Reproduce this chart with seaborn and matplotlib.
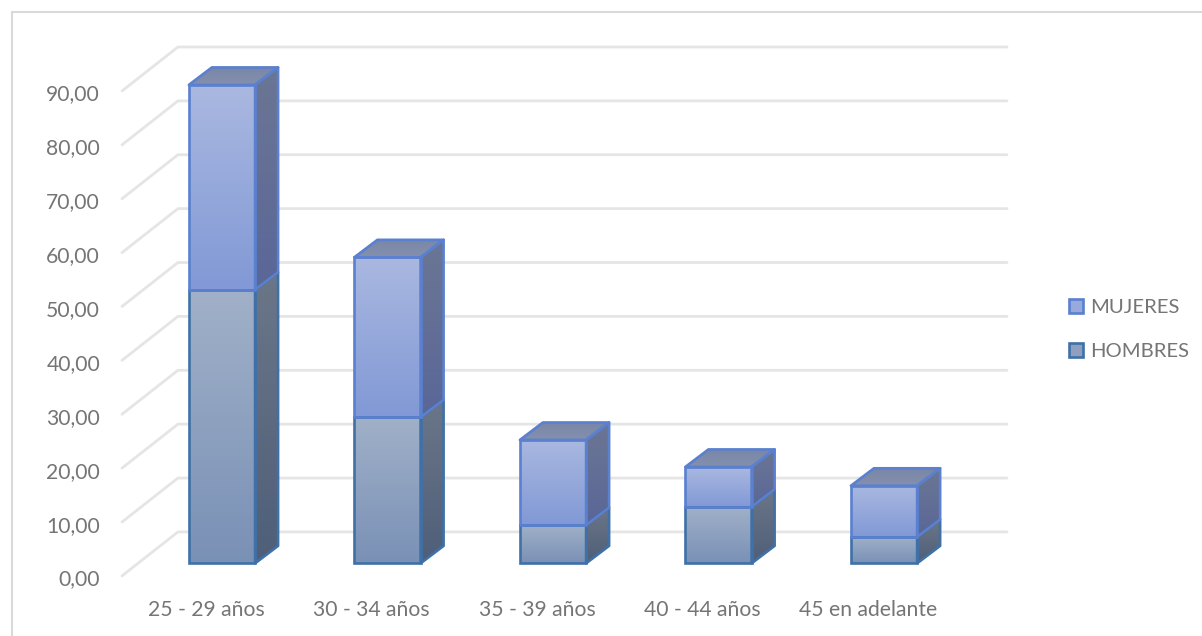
import matplotlib
matplotlib.use("Agg")
import matplotlib.pyplot as plt
import numpy as np
import seaborn as sns
from matplotlib.colors import LinearSegmentedColormap
from matplotlib.lines import Line2D
from matplotlib.patches import Patch, Polygon

# Survey totals per age bracket
age_groups = ["25 - 29 años", "30 - 34 años", "35 - 39 años", "40 - 44 años", "45 en adelante"]
hombres = [50.8, 27.1, 7.1, 10.5, 4.9]
mujeres = [38.0, 29.7, 15.8, 7.4, 9.5]
grid_values = [0, 10, 20, 30, 40, 50, 60, 70, 80, 90]
grid_labels = ["0,00", "10,00", "20,00", "30,00", "40,00", "50,00", "60,00", "70,00", "80,00", "90,00"]

W, H = 1202, 636
sns.set_theme(style="white")
plt.rcParams["font.family"] = ["Lato", "DejaVu Sans"]

TEXT = "#757575"
GRID = "#e5e5e5"
FRAME = "#d9d9d9"
EDGE_M = "#5a80cf"
EDGE_H = "#3f71a8"
FRONT_M = ("#aab8e0", "#8199d6")
FRONT_H = ("#a0b0c8", "#7a91b6")
SIDE_M = ("#6b7694", "#5a6798")
SIDE_H = ("#6b7688", "#4f5f79")
TOP_M = ("#7a86a6", "#8490ae")

# Oblique projection offsets, in data units
BAR_DX, BAR_DY = 0.139, 3.24
WALL_X, WALL_DY, FLOOR_DY = -0.266, 5.83, -2.33
LABEL_DY, LABEL_DX = -0.3, -0.097
EDGE_LW = 1.9

fig = plt.figure(figsize=(W / 100, H / 100), dpi=100, facecolor="white")
ax = fig.add_axes([122 / W, 1 - 577.5 / H, (1007 - 122) / W, (577.5 - 47) / H])
ax.set_facecolor("none")

sns.barplot(x=age_groups, y=hombres, width=0.4, ax=ax, color=FRONT_H[0], saturation=1, errorbar=None)
sns.barplot(x=age_groups, y=mujeres, bottom=hombres, width=0.4, ax=ax, color=FRONT_M[0], saturation=1, errorbar=None)

XLIM = (-0.604, 4.743)
YLIM = (-2.4, 95.83)


def shade(patch, top, bottom, zorder):
    """Paint a vertical gradient clipped to the given patch."""
    cmap = LinearSegmentedColormap.from_list("face", [top, bottom])
    if isinstance(patch, Polygon):
        verts = patch.get_path().vertices
        x0, y0 = verts.min(axis=0)
        x1, y1 = verts.max(axis=0)
    else:
        x0, y0 = patch.get_x(), patch.get_y()
        x1, y1 = x0 + patch.get_width(), y0 + patch.get_height()
    im = ax.imshow(np.linspace(0, 1, 64)[:, None], cmap=cmap, aspect="auto",
                   extent=(x0, x1, y0, y1), origin="upper", zorder=zorder)
    im.set_clip_path(patch)


# Back wall and floor guide lines
for v in grid_values:
    ax.plot([XLIM[0], WALL_X, XLIM[1]], [v + FLOOR_DY, v + WALL_DY, v + WALL_DY],
            color=GRID, lw=2.0, zorder=1, solid_joinstyle="miter", clip_on=False)

rects = list(ax.patches)
n = len(age_groups)
for i, rect in enumerate(rects):
    is_men = i < n
    x0 = rect.get_x()
    x1 = x0 + rect.get_width()
    y0 = rect.get_y()
    y1 = y0 + rect.get_height()
    edge = EDGE_H if is_men else EDGE_M
    front, side_cols = (FRONT_H, SIDE_H) if is_men else (FRONT_M, SIDE_M)

    side = Polygon([(x1, y0), (x1 + BAR_DX, y0 + BAR_DY), (x1 + BAR_DX, y1 + BAR_DY), (x1, y1)],
                   closed=True, facecolor="none", edgecolor=edge, lw=EDGE_LW, zorder=5, joinstyle="round")
    ax.add_patch(side)
    shade(side, side_cols[0], side_cols[1], 4)

    rect.set_facecolor("none")
    rect.set_edgecolor(edge)
    rect.set_linewidth(EDGE_LW)
    rect.set_zorder(6)
    shade(rect, front[0], front[1], 4)

    if not is_men:
        top = Polygon([(x0, y1), (x0 + BAR_DX, y1 + BAR_DY), (x1 + BAR_DX, y1 + BAR_DY), (x1, y1)],
                      closed=True, facecolor="none", edgecolor=edge, lw=EDGE_LW, zorder=5, joinstyle="round")
        ax.add_patch(top)
        shade(top, TOP_M[0], TOP_M[1], 4)

ax.set_xlim(*XLIM)
ax.set_ylim(*YLIM)
for spine in ax.spines.values():
    spine.set_visible(False)

ax.set_yticks([v + FLOOR_DY + LABEL_DY for v in grid_values], grid_labels)
ax.set_xticks([p + LABEL_DX for p in range(n)], age_groups)
ax.tick_params(axis="y", length=0, pad=15.8, labelsize=15.2, labelcolor=TEXT)
ax.tick_params(axis="x", length=0, pad=16, labelsize=15.2, labelcolor=TEXT)

handles = [
    Patch(facecolor="#98a9dc", edgecolor=EDGE_M, lw=EDGE_LW, label="MUJERES"),
    Patch(facecolor="#8da0bf", edgecolor=EDGE_H, lw=EDGE_LW, label="HOMBRES"),
]
fig.legend(handles=handles, loc="center left", bbox_to_anchor=(1063 / W, 1 - 329.5 / H),
           frameon=False, fontsize=14.6, labelcolor=TEXT, handlelength=0.7, handleheight=0.7,
           handletextpad=0.35, labelspacing=1.3, borderpad=0.3, borderaxespad=0)

# Outer chart frame
fig.add_artist(Line2D([11.5 / W, 11.5 / W, 1], [0, 1 - 11.5 / H, 1 - 11.5 / H],
                      color=FRAME, lw=1.5, solid_joinstyle="miter"))

fig.savefig("out.png", dpi=100)
